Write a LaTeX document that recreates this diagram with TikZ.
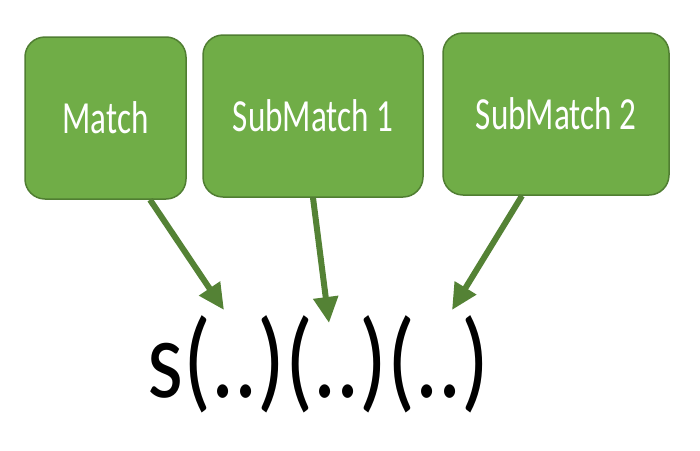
\documentclass[tikz,border=0pt]{standalone}
\usepackage{fontspec}
\setmainfont{Carlito}
\newfontfamily\boxfont[FakeStretch=0.72]{Carlito}
\newfontfamily\bigfont[FakeStretch=0.82]{Carlito}
\usetikzlibrary{arrows.meta}
\definecolor{boxfill}{HTML}{70AD47}
\definecolor{boxline}{HTML}{507E32}
\definecolor{arrowgreen}{HTML}{548235}
\tikzset{
  greenbox/.style={draw=boxline, line width=1.5pt, fill=boxfill, rounded corners=20pt,
    text=white, font=\boxfont\fontsize{46}{50}\selectfont, inner sep=0pt},
  greenarrow/.style={draw=arrowgreen, line width=6pt,
    -{Triangle[length=26pt,width=24pt]}}
}
\begin{document}
\begin{tikzpicture}[x=1pt,y=-1pt]
\useasboundingbox (0,0) rectangle (700,450);
\node[greenbox, minimum width=161pt, minimum height=162pt] (m) at (105.5,118) {Match};
\node[greenbox, minimum width=220pt, minimum height=162pt] (s1) at (313,116) {SubMatch 1};
\node[greenbox, minimum width=226pt, minimum height=162pt] (s2) at (556,114) {SubMatch 2};
\node[anchor=base, inner sep=0pt, font=\bigfont\fontsize{112}{120}\selectfont] (expr) at (318.5,397) {s(..)(..)(..)};
\coordinate (t1) at (224,310);
\coordinate (t2) at (329,323);
\coordinate (t3) at (452,310);
\draw[greenarrow] ([xshift=44.5pt]m.south) -- (t1);
\draw[greenarrow] (s1.south) -- (t2);
\draw[greenarrow] ([xshift=-34pt]s2.south) -- (t3);
\end{tikzpicture}
\end{document}
